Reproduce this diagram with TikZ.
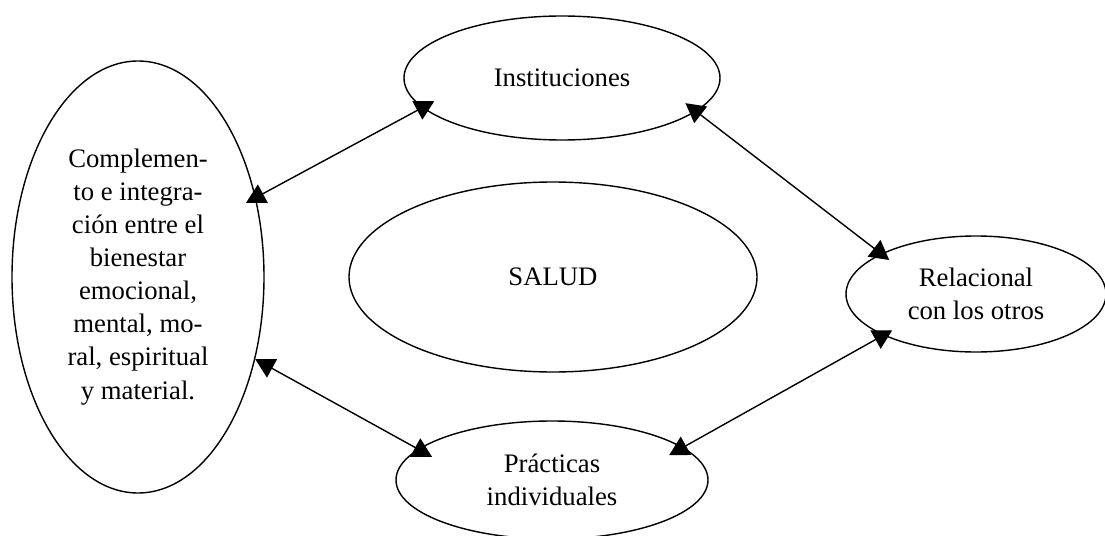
\documentclass[tikz,border=0pt]{standalone}
\usepackage{fontspec}
\setmainfont{Liberation Serif}
\usetikzlibrary{shapes.geometric, arrows.meta}

\tikzset{bubble/.style={draw, ellipse, inner sep=0pt, align=center}}

\begin{document}
\begin{tikzpicture}[font=\fontsize{19}{23.5}\selectfont, line width=1pt, >={Triangle[length=0.48cm,width=0.52cm]}]
\useasboundingbox (0,0) rectangle (27.625,-13.4);
\node[bubble, minimum width=6.3cm, minimum height=10.8cm] (comp) at (3.45,-6.925) {Complemen-\\to e integra-\\ción entre el\\bienestar\\emocional,\\mental, mo-\\ral, espiritual\\y material.};
\node[bubble, minimum width=7.9cm, minimum height=3.1cm] (inst) at (14.05,-1.95) {Instituciones};
\node[bubble, minimum width=10.2cm, minimum height=4.75cm] (salud) at (13.825,-6.925) {SALUD};
\node[bubble, minimum width=6.5cm, minimum height=2.9cm] (rel) at (24.4,-7.35) {Relacional\\con los otros};
\node[bubble, minimum width=7.8cm, minimum height=2.95cm] (prac) at (13.8,-12.0) {Prácticas\\individuales};
\draw [<->, shorten <=-0.28cm, shorten >=-0.34cm] (comp.34) -- (inst.192);
\draw [<->, shorten <=-0.34cm, shorten >=-0.26cm] (inst.346) -- (rel.157);
\draw [<->, shorten <=0cm, shorten >=-0.4cm] (comp.325) -- (prac.167);
\draw [<->, shorten <=-0.4cm, shorten >=-0.26cm] (prac.14) -- (rel.204);
\end{tikzpicture}
\end{document}
